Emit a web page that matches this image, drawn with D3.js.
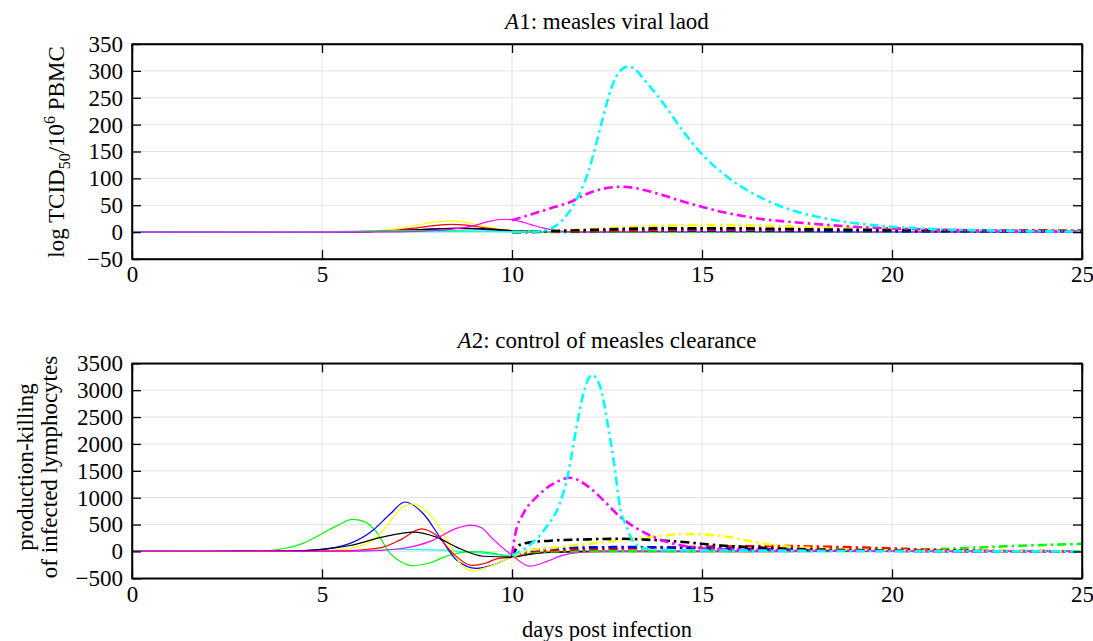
<!DOCTYPE html>
<html>
<head>
<meta charset="utf-8">
<script src="https://cdn.jsdelivr.net/npm/d3@7"></script>
<style>
  body { margin: 0; background: #fff; }
</style>
</head>
<body>
<div id="chart"></div>
<script>
// panel A1: viral load, solid = days 0-~12, dash-dot = from day 10
const a1Solid = {
  yellow: [[0, 0], [5, 0.3], [6, 1], [6.5, 3], [7, 7], [7.5, 13], [8, 19], [8.3, 21], [8.6, 20], [9, 15], [9.5, 8], [10, 3], [10.5, 1], [11, 0], [25, 0]],
  red: [[0, 0], [6, 0.5], [7, 4], [7.5, 8], [8, 12.5], [8.4, 14.5], [8.8, 13], [9.2, 9], [9.6, 5], [10, 2.5], [10.5, 0.5], [11, 0], [25, 0]],
  blue: [[0, 0], [6, 0.5], [7, 3], [8, 6], [8.5, 7], [9, 6], [9.5, 4], [10, 2], [11, 0], [25, 0]],
  black: [[0, 0], [6, 0.5], [7, 3], [8, 6], [8.7, 7.5], [9.3, 6], [10, 3], [11, 1], [12, 0], [25, 0]],
  green: [[0, 0], [5, 0.5], [6, 2], [7, 3], [8, 3], [9, 2], [10, 1], [11, 0], [25, 0]],
  cyan: [[0, 0], [8, 1], [10, 1], [12, 0], [25, 0]],
  magenta: [[0, 0], [7, 0.5], [8, 3], [8.5, 6], [9, 12], [9.4, 20], [9.8, 24], [10.1, 22], [10.5, 14], [10.8, 8], [11.2, 3], [11.6, 0.5], [12, 0], [25, 0]]
};
const a1Dash = {
  green: [[10, 0], [12, 0.5], [15, 1], [20, 1], [25, 1]],
  blue: [[10, 0], [12, 1.5], [14, 2.5], [16, 2.5], [18, 2], [20, 1.5], [25, 1]],
  red: [[10, 0], [11, 1], [12, 2], [13, 3], [14, 4], [15, 4.5], [17, 4.5], [18, 4.5], [20, 4], [22, 3.5], [25, 3]],
  yellow: [[10, 0], [11, 2], [12, 5], [13, 9], [14, 12], [15, 13], [16, 13], [17, 11], [18, 9], [19, 7], [20, 5], [22, 3.5], [25, 2]],
  black: [[10, 0], [11, 2], [12, 4], [13, 6], [14, 7], [15, 7], [16, 7], [17, 6], [18, 5], [20, 4], [22, 3], [25, 2]],
  magenta: [[10, 22], [10.5, 33], [11, 44], [11.5, 55], [12, 72], [12.5, 82], [12.9, 84.5], [13.5, 78], [14, 68], [14.5, 57], [15, 47], [15.5, 38], [16, 31], [16.5, 25], [17, 21], [17.5, 18], [18, 15], [19, 10], [20, 7], [21, 5], [22, 3.5], [23, 2.5], [24, 2], [25, 1.5]],
  cyan: [[10, 0], [10.5, 0.5], [10.8, 2], [11, 6], [11.2, 14], [11.4, 28], [11.6, 48], [11.8, 75], [12, 110], [12.2, 160], [12.4, 215], [12.6, 265], [12.8, 296], [13.05, 308], [13.2, 305], [13.5, 282], [14, 238], [14.5, 188], [15, 145], [15.5, 112], [16, 86], [16.5, 66], [17, 50], [17.5, 38], [18, 29], [18.5, 22], [19, 17], [19.5, 13], [20, 10], [21, 6], [22, 4], [23, 2.5], [24, 1.5], [25, 1]]
};

// panel A2: production-killing of infected lymphocytes
const a2Solid = {
  cyan: [[0, 0], [6, 10], [7, 40], [8, 30], [9, -20], [10, -70], [10.5, -30], [11, 0], [25, 0]],
  green: [[0, 0], [3, 0], [3.5, 10], [4, 55], [4.5, 150], [5, 330], [5.4, 480], [5.8, 595], [6.1, 560], [6.4, 390], [6.8, -40], [7.1, -200], [7.4, -265], [7.8, -220], [8.4, -60], [8.9, -5], [9.5, -30], [10, -105], [10.5, -40], [11, -10], [12, 0], [25, 0]],
  blue: [[0, 0], [4, 5], [4.86, 30], [5.74, 150], [6.35, 400], [6.8, 700], [7.18, 920], [7.66, 705], [8.1, 270], [8.54, -160], [9.07, -315], [9.5, -250], [10, -105], [10.5, -40], [11, -15], [12, 0], [25, 0]],
  yellow: [[0, 0], [5, 10], [5.74, 60], [6.35, 210], [6.79, 550], [7.1, 820], [7.4, 885], [7.84, 680], [8.28, 240], [8.63, -220], [8.98, -360], [9.4, -280], [10, -105], [10.5, -30], [11, -5], [12, 0], [25, 0]],
  red: [[0, 0], [5.5, 10], [6.2, 40], [6.61, 80], [7.05, 210], [7.62, 420], [8.01, 300], [8.46, -45], [8.94, -260], [9.3, -220], [9.6, -140], [10, -105], [10.5, -40], [11, -10], [12, 0], [25, 0]],
  black: [[0, 0], [4, 5], [4.86, 30], [5.74, 110], [6.61, 270], [7.4, 360], [8.01, 265], [8.54, 80], [9.25, -90], [10, -105], [10.5, -50], [11, -20], [12, -5], [25, 0]],
  magenta: [[0, 0], [6, 5], [7.05, 50], [7.93, 210], [8.5, 420], [8.94, 490], [9.2, 440], [9.5, 230], [10, -70], [10.47, -275], [10.9, -190], [11.35, -70], [11.79, -20], [12.5, 0], [25, 0]]
};
const a2Dash = {
  green: [[10, -100], [10.5, -10], [11, 0], [12, 5], [15, 10], [18, 10], [20, 15], [21, 35], [22, 65], [23, 95], [24, 120], [25, 140]],
  red: [[10, -100], [10.5, 0], [11, 20], [12, 40], [13, 55], [14, 70], [15, 85], [16, 95], [17, 100], [18, 90], [19, 75], [20, 55], [21, 30], [22, 15], [23, 8], [24, 5], [25, 3]],
  blue: [[10, -100], [10.5, 20], [11, 50], [12, 75], [13, 80], [14, 75], [15, 60], [16, 45], [17, 35], [18, 25], [20, 12], [22, 5], [25, 2]],
  yellow: [[10, -100], [10.5, 30], [11, 60], [11.5, 100], [12, 140], [12.5, 175], [13, 220], [13.5, 265], [14, 300], [14.5, 320], [15, 315], [15.5, 290], [16, 230], [16.5, 160], [17, 110], [18, 60], [19, 35], [20, 20], [22, 8], [25, 0]],
  black: [[10, -100], [10.2, 120], [10.5, 170], [11, 200], [12, 225], [12.8, 235], [13.5, 220], [14.5, 175], [15.5, 110], [16.5, 70], [17.5, 45], [19, 25], [21, 10], [25, 0]],
  magenta: [[10, -70], [10.09, 335], [10.3, 705], [10.65, 1015], [11.09, 1260], [11.53, 1370], [11.96, 1230], [12.4, 955], [12.84, 645], [13.28, 430], [13.72, 270], [14.25, 145], [14.86, 70], [16, 30], [18, 15], [20, 8], [25, 0]],
  cyan: [[10, -70], [10.47, 120], [10.91, 460], [11.26, 895], [11.48, 1450], [11.7, 2320], [11.88, 2940], [12.11, 3280], [12.32, 3065], [12.53, 2320], [12.71, 1515], [12.84, 825], [13.02, 455], [13.2, 175], [13.54, 50], [14, 25], [16, 15], [20, 5], [25, 0]]
};

const xTicks = [0, 5, 10, 15, 20, 25];
const a1Ticks = [-50, 0, 50, 100, 150, 200, 250, 300, 350];
const a2Ticks = [-500, 0, 500, 1000, 1500, 2000, 2500, 3000, 3500];

const colors = {
  yellow: "#ffff00", red: "#ff0000", blue: "#0000ff", black: "#000000",
  green: "#00ff00", cyan: "#00ffff", magenta: "#ff00ff"
};

const serif = '"Liberation Serif", "Times New Roman", serif';
const width = 1093;
const height = 641;
const left = 132, right = 1082;

const svg = d3.select("#chart").append("svg").attr("width", width).attr("height", height)
  .attr("font-family", serif);

const x = d3.scaleLinear().domain([0, 25]).range([left, right]);

function panel(id, top, bottom, yDomain, yTicks, solid, dash, title) {
  const y = d3.scaleLinear().domain(yDomain).range([bottom, top]);
  const g = svg.append("g").attr("id", id);

  g.append("clipPath").attr("id", id + "-clip")
    .append("rect").attr("x", left).attr("y", top).attr("width", right - left).attr("height", bottom - top);

  // grid
  g.append("g").selectAll("line").data(yTicks).join("line")
    .attr("x1", left).attr("x2", right)
    .attr("y1", (d) => y(d)).attr("y2", (d) => y(d))
    .attr("stroke", "#e3e3e3").attr("stroke-width", 1);
  g.append("g").selectAll("line").data(xTicks).join("line")
    .attr("x1", (d) => x(d)).attr("x2", (d) => x(d))
    .attr("y1", top).attr("y2", bottom)
    .attr("stroke", "#e3e3e3").attr("stroke-width", 1);

  const line = d3.line().x((d) => x(d[0])).y((d) => y(d[1])).curve(d3.curveMonotoneX);
  const lines = g.append("g").attr("clip-path", `url(#${id}-clip)`);

  Object.entries(solid).forEach(([c, pts]) => {
    lines.append("path").datum(pts).attr("d", line)
      .attr("fill", "none").attr("stroke", colors[c]).attr("stroke-width", 1.2);
  });
  Object.entries(dash).forEach(([c, pts]) => {
    lines.append("path").datum(pts).attr("d", line)
      .attr("fill", "none").attr("stroke", colors[c]).attr("stroke-width", 2.6)
      .attr("stroke-dasharray", "9,4,2.5,4");
  });

  // axes, ticks pointing inward
  const font = (sel) => sel.attr("font-family", serif).attr("font-size", 23);
  g.append("g").attr("transform", `translate(0,${bottom})`)
    .call(d3.axisBottom(x).tickValues(xTicks).tickSizeInner(-9).tickSizeOuter(0).tickPadding(7))
    .call(font);
  g.append("g").attr("transform", `translate(0,${top})`)
    .call(d3.axisTop(x).tickValues(xTicks).tickSizeInner(-9).tickSizeOuter(0).tickFormat(""));
  g.append("g").attr("transform", `translate(${left},0)`)
    .call(d3.axisLeft(y).tickValues(yTicks).tickSizeInner(-9).tickSizeOuter(0).tickPadding(9).tickFormat(d3.format("d")))
    .call(font);
  g.append("g").attr("transform", `translate(${right},0)`)
    .call(d3.axisRight(y).tickValues(yTicks).tickSizeInner(-9).tickSizeOuter(0).tickFormat(""));
  g.selectAll(".domain").attr("stroke", "#000").attr("stroke-width", 1.5);
  g.selectAll(".tick line").attr("stroke", "#000").attr("stroke-width", 1.3);

  g.append("rect").attr("x", left).attr("y", top).attr("width", right - left).attr("height", bottom - top)
    .attr("fill", "none").attr("stroke", "#000").attr("stroke-width", 1.5);

  const t = g.append("text").attr("x", (left + right) / 2).attr("y", top - 15)
    .attr("text-anchor", "middle").attr("font-size", 23);
  t.append("tspan").attr("font-style", "italic").text(title[0]);
  t.append("tspan").text(title[1]);
  t.append("tspan").text(title[2]);
  return y;
}

panel("a1", 44, 259, [-50, 350], a1Ticks, a1Solid, a1Dash, ["A", "1", ": measles viral laod"]);
panel("a2", 363.3, 578.3, [-500, 3500], a2Ticks, a2Solid, a2Dash, ["A", "2", ": control of measles clearance"]);

// y labels
const yl = svg.append("text").attr("transform", "translate(64,152) rotate(-90)")
  .attr("text-anchor", "middle").attr("font-size", 23);
yl.append("tspan").text("log TCID");
yl.append("tspan").attr("dy", 6).attr("font-size", 16).text("50");
yl.append("tspan").attr("dy", -6).text("/10");
yl.append("tspan").attr("dy", -9).attr("font-size", 16).text("6");
yl.append("tspan").attr("dy", 9).text(" PBMC");

svg.append("text").attr("transform", "translate(33,467) rotate(-90)")
  .attr("text-anchor", "middle").attr("font-size", 23).text("production-killing");
svg.append("text").attr("transform", "translate(57,467) rotate(-90)")
  .attr("text-anchor", "middle").attr("font-size", 23).text("of infected lymphocytes");

svg.append("text").attr("x", (left + right) / 2).attr("y", 637)
  .attr("text-anchor", "middle").attr("font-size", 22.5).text("days post infection");
</script>
</body>
</html>
